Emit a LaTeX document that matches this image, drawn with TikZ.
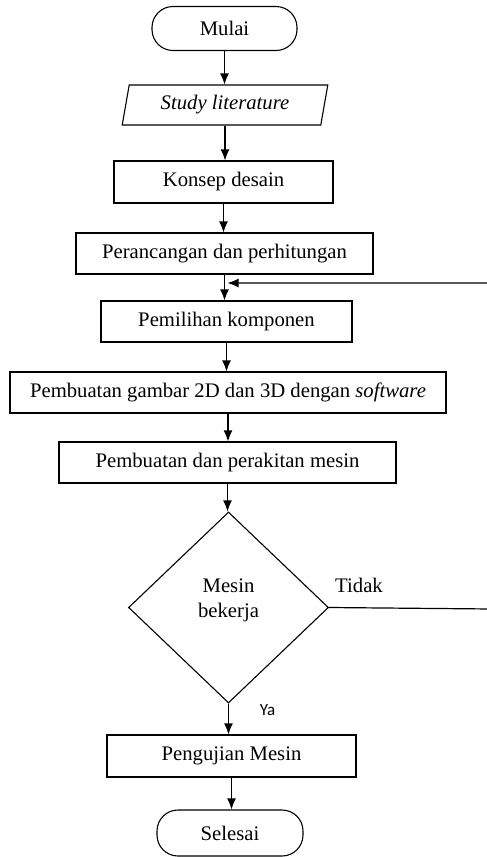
\documentclass[tikz,border=0pt]{standalone}
\usepackage{fontspec}
\setmainfont{Liberation Serif}
\newfontfamily\yafont{Carlito}
\usetikzlibrary{shapes.geometric,arrows.meta}
\begin{document}
\begin{tikzpicture}[x=1pt, y=-1pt,
                    every node/.style={font=\fontsize{20.7}{25}\selectfont, line width=1.1pt},
                    proses/.style={draw, rectangle, minimum height=41pt, inner sep=0pt},
                    terminal/.style={draw, rectangle, rounded corners=21pt, minimum height=44pt, inner sep=0pt},
                    panah/.style={-{Latex[length=11pt,width=9pt]}, line width=1.2pt}]
  \useasboundingbox (0,0) rectangle (487,857);
  \clip (0,0) rectangle (487,857);
  \node[terminal, minimum width=145pt] (mulai) at (224.5,28.5) {Mulai};
  \node[draw, trapezium, trapezium left angle=76, trapezium right angle=104,
        trapezium stretches=true, minimum width=206pt, minimum height=40pt, inner sep=0pt]
        (study) at (225,105) {\itshape Study literature};
  \node[proses, minimum width=219pt, minimum height=42pt] (konsep) at (223.5,182) {Konsep desain};
  \node[proses, minimum width=297pt] (rancang) at (224.5,253.5) {Perancangan dan perhitungan};
  \node[proses, minimum width=251pt] (pilih) at (226.5,321.5) {Pemilihan komponen};
  \node[proses, minimum width=436pt] (gambar) at (228,392.5)
        {Pembuatan gambar 2D dan 3D dengan \textit{software}};
  \node[proses, minimum width=337pt] (rakit) at (227.5,462.5) {Pembuatan dan perakitan mesin};
  \node[draw, diamond, minimum width=200pt, minimum height=191pt, inner sep=0pt]
        (mesin) at (228.5,607.5) {};
  \node[align=center] (mesinlbl) at (228.5,600.5) {Mesin\\bekerja};
  \node[proses, minimum width=249pt, minimum height=42pt] (uji) at (231.5,756) {Pengujian Mesin};
  \node[terminal, minimum width=146pt, minimum height=46pt] (selesai) at (230,833) {Selesai};
  \node (tidak) at (359,585) {Tidak};
  \node[font=\yafont\fontsize{17}{20}\selectfont] (ya) at (267.5,710) {Ya};
  \coordinate (balik1) at (492,609);
  \coordinate (balik2) at (492,283);
  \draw[panah] (mulai.south) -- (mulai.south |- study.north);
  \draw[panah] (study.south) -- (study.south |- konsep.north);
  \draw[panah] (konsep.south) -- (konsep.south |- rancang.north);
  \draw[panah] (rancang.south) -- (rancang.south |- pilih.north);
  \draw[panah] (pilih.south) -- (pilih.south |- gambar.north);
  \draw[panah] (gambar.south) -- (gambar.south |- rakit.north);
  \draw[panah] (rakit.south) -- (rakit.south |- mesin.north);
  \draw[panah] (mesin.south) -- (mesin.south |- uji.north);
  \draw[panah] (uji.south) -- (uji.south |- selesai.north);
  \draw[panah] (mesin.east) -- (balik1) -- (balik2) -- ([xshift=3pt]rancang.south |- balik2);
\end{tikzpicture}
\end{document}
